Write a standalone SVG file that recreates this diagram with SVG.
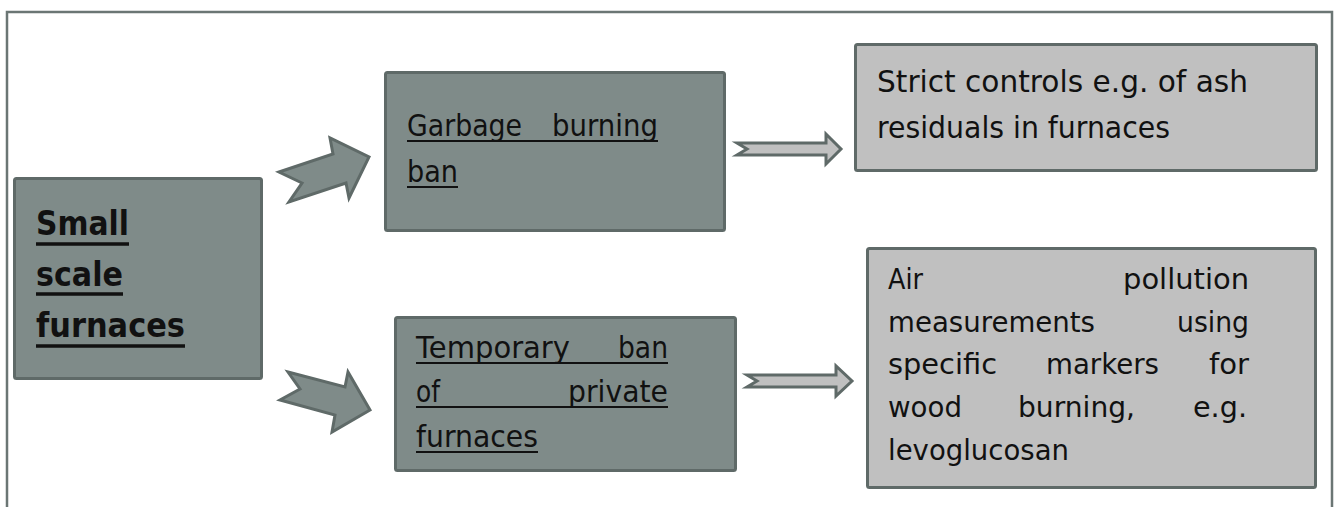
<svg xmlns="http://www.w3.org/2000/svg" width="1334" height="507" viewBox="0 0 1334 507">
<style>
.frame{fill:none;stroke:#6b7674;stroke-width:2.5}
.dark{fill:#7f8b89;stroke:#5f6a68;stroke-width:3}
.light{fill:#c0c0c0;stroke:#5f6a68;stroke-width:3}
.blk{fill:#7f8b89;stroke:#5f6a68;stroke-width:3;stroke-linejoin:miter}
.dbl{fill:#c0c0c0;stroke:#5f6a68;stroke-width:3;stroke-linejoin:miter}
text{font-family:"DejaVu Sans","Liberation Sans",sans-serif;fill:#111111}
.b{font-weight:bold;font-size:34px}
.t31{font-size:31px}
.t30{font-size:30px}
.t28{font-size:27.5px}
.ul{stroke:#111111;stroke-width:2}
.ulb{stroke:#111111;stroke-width:3.3}
</style>
<rect width="1334" height="507" fill="#ffffff"/>
<path class="frame" d="M7,507 V12 H1332 V507"/>

<g id="connectors">
  <polygon class="blk" points="279,172 333,154 330,138 369,157 349,198 346,183 289,202 302,183"/>
  <polygon class="blk" points="288,372 345,387 348,372 370,410 332,432 335,415 280,400 300,389"/>
  <polygon class="dbl" points="737,143 826,143 826,134 841,149 826,164 826,155 737,155 747,149"/>
  <polygon class="dbl" points="747,375 836,375 836,366 852,381 836,396 836,387 747,387 757,381"/>
</g>

<g id="node-small">
  <rect class="dark" x="14.5" y="178.5" width="247" height="200" rx="2"/>
  <text class="b" x="36" y="235" textLength="93" lengthAdjust="spacingAndGlyphs">Small</text>
  <text class="b" x="36" y="286" textLength="87" lengthAdjust="spacingAndGlyphs">scale</text>
  <text class="b" x="36" y="337" textLength="149" lengthAdjust="spacingAndGlyphs">furnaces</text>
  <line class="ulb" x1="36" y1="244" x2="129" y2="244"/>
  <line class="ulb" x1="36" y1="294" x2="123" y2="294"/>
  <line class="ulb" x1="36" y1="346" x2="185" y2="346"/>
</g>

<g id="node-garbage">
  <rect class="dark" x="385.5" y="72.5" width="339" height="158" rx="2"/>
  <text class="t31" x="407" y="136" textLength="115" lengthAdjust="spacingAndGlyphs">Garbage</text>
  <text class="t31" x="552" y="136" textLength="106" lengthAdjust="spacingAndGlyphs">burning</text>
  <text class="t31" x="407" y="182" textLength="51" lengthAdjust="spacingAndGlyphs">ban</text>
  <line class="ul" x1="407" y1="141" x2="658" y2="141"/>
  <line class="ul" x1="407" y1="187" x2="458" y2="187"/>
</g>

<g id="node-temporary">
  <rect class="dark" x="395.5" y="317.5" width="340" height="153" rx="2"/>
  <text class="t31" x="416" y="358" textLength="154" lengthAdjust="spacingAndGlyphs">Temporary</text>
  <text class="t31" x="618" y="358" textLength="50" lengthAdjust="spacingAndGlyphs">ban</text>
  <text class="t31" x="416" y="402" textLength="24" lengthAdjust="spacingAndGlyphs">of</text>
  <text class="t31" x="568" y="402" textLength="100" lengthAdjust="spacingAndGlyphs">private</text>
  <text class="t31" x="416" y="447" textLength="122" lengthAdjust="spacingAndGlyphs">furnaces</text>
  <line class="ul" x1="416" y1="363" x2="668" y2="363"/>
  <line class="ul" x1="416" y1="407" x2="668" y2="407"/>
  <line class="ul" x1="416" y1="452" x2="538" y2="452"/>
</g>

<g id="node-strict">
  <rect class="light" x="855.5" y="44.5" width="461" height="126" rx="2"/>
  <text class="t30" x="877" y="92" textLength="371" lengthAdjust="spacingAndGlyphs">Strict controls e.g. of ash</text>
  <text class="t30" x="877" y="138" textLength="293" lengthAdjust="spacingAndGlyphs">residuals in furnaces</text>
</g>

<g id="node-air">
  <rect class="light" x="867.5" y="248.5" width="448" height="239" rx="2"/>
  <text class="t28" x="888" y="289" textLength="35" lengthAdjust="spacingAndGlyphs">Air</text>
  <text class="t28" x="1123" y="289" textLength="126" lengthAdjust="spacingAndGlyphs">pollution</text>
  <text class="t28" x="888" y="332" textLength="207" lengthAdjust="spacingAndGlyphs">measurements</text>
  <text class="t28" x="1177" y="332" textLength="72" lengthAdjust="spacingAndGlyphs">using</text>
  <text class="t28" x="888" y="374" textLength="109" lengthAdjust="spacingAndGlyphs">specific</text>
  <text class="t28" x="1046" y="374" textLength="113" lengthAdjust="spacingAndGlyphs">markers</text>
  <text class="t28" x="1209" y="374" textLength="40" lengthAdjust="spacingAndGlyphs">for</text>
  <text class="t28" x="888" y="417" textLength="74" lengthAdjust="spacingAndGlyphs">wood</text>
  <text class="t28" x="1018" y="417" textLength="117" lengthAdjust="spacingAndGlyphs">burning,</text>
  <text class="t28" x="1193" y="417" textLength="54" lengthAdjust="spacingAndGlyphs">e.g.</text>
  <text class="t28" x="888" y="460" textLength="181" lengthAdjust="spacingAndGlyphs">levoglucosan</text>
</g>
</svg>
